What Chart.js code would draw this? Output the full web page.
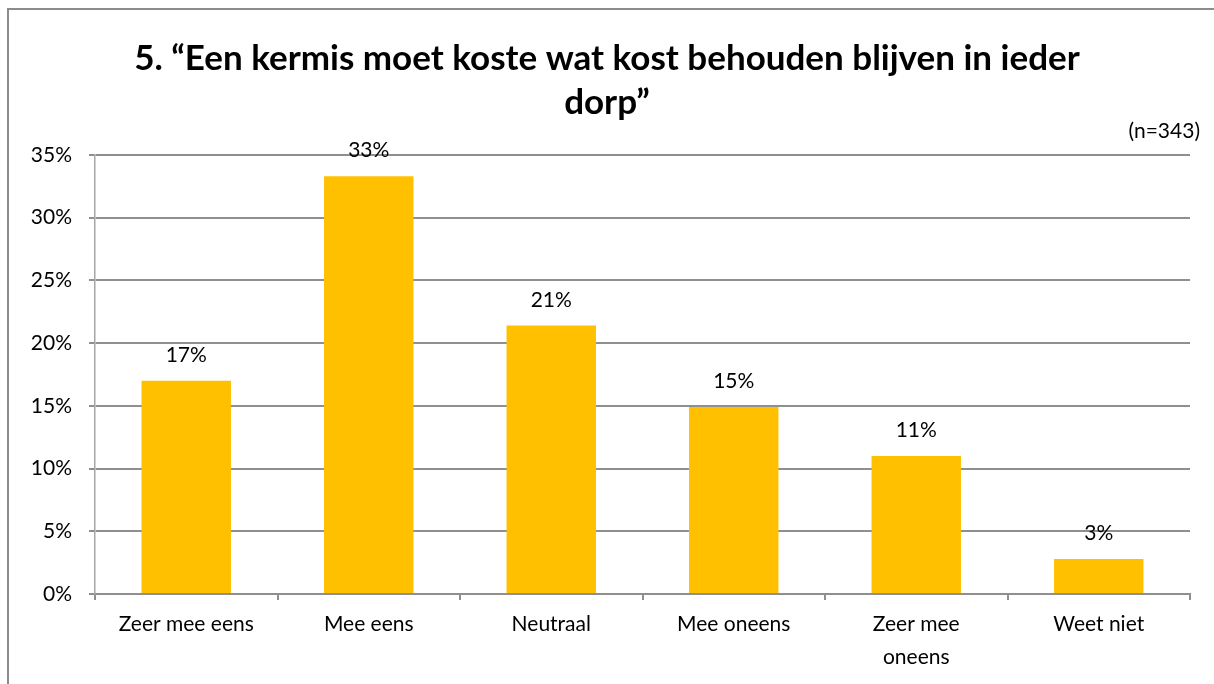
<!DOCTYPE html>
<html>
<head>
<meta charset="utf-8">
<script src="https://cdn.jsdelivr.net/npm/chart.js@4.4.1/dist/chart.umd.min.js"></script>
<style>
  body { margin: 0; overflow: hidden; background: #fff; }
  #frame { position: absolute; left: 7px; top: 8px; width: 1240px; height: 720px; border: 2px solid #8c8c8c; }
  #myChart { position: absolute; left: 0; top: 0; }
</style>
</head>
<body>
<div id="frame"></div>
<canvas id="myChart" width="1214" height="684"></canvas>
<script>
// data
const categories = ['Zeer mee eens', 'Mee eens', 'Neutraal', 'Mee oneens', ['Zeer mee', 'oneens'], 'Weet niet'];
const percentages = [17.0, 33.3, 21.4, 14.9, 11.0, 2.8];
const titleLines = ['5. \u201cEen kermis moet koste wat kost behouden blijven in ieder', 'dorp\u201d'];
const sampleNote = '(n=343)';

const gridGrey = '#8f8f8f';
const fontName = 'Lato';

// value labels above the bars + the (n=...) note
const labelPlugin = {
  id: 'barLabels',
  afterDatasetsDraw(chart) {
    const ctx = chart.ctx;
    const meta = chart.getDatasetMeta(0);
    ctx.save();
    ctx.font = '21px ' + fontName;
    ctx.fillStyle = '#000';
    ctx.textAlign = 'center';
    ctx.textBaseline = 'alphabetic';
    meta.data.forEach((bar, i) => {
      ctx.fillText(Math.round(percentages[i]) + '%', bar.x, bar.y - 19);
    });
    ctx.textAlign = 'right';
    ctx.fillText(sampleNote, chart.chartArea.right + 10, chart.chartArea.top - 17);
    ctx.restore();
  }
};

const data = {
  labels: categories,
  datasets: [{
    data: percentages,
    backgroundColor: '#FFC000',
    barPercentage: 0.49,
    categoryPercentage: 1.0
  }]
};

const config = {
  type: 'bar',
  data,
  options: {
    responsive: false,
    animation: false,
    layout: { padding: 0 },
    plugins: {
      legend: { display: false },
      tooltip: { enabled: false },
      title: {
        display: true,
        text: titleLines,
        color: '#000',
        font: { family: fontName, size: 35, weight: 'bold', lineHeight: 1.257 },
        padding: { top: 37, bottom: 30 }
      }
    },
    scales: {
      x: {
        grid: { drawOnChartArea: false, drawTicks: true, tickLength: 6, color: gridGrey, lineWidth: 2 },
        border: { color: gridGrey, width: 2 },
        ticks: {
          color: '#000',
          font: { family: fontName, size: 21, lineHeight: 1.57 },
          padding: 8,
          maxRotation: 0,
          autoSkip: false
        },
        afterFit(scale) { scale.height = 90; }
      },
      y: {
        min: 0,
        max: 35,
        grid: { color: gridGrey, lineWidth: 2, tickLength: 6 },
        border: { color: '#a6a6a6', width: 1.5 },
        ticks: {
          stepSize: 5,
          color: '#000',
          padding: 17,
          font: { family: fontName, size: 21 },
          callback: v => v + '%'
        },
        afterFit(scale) { scale.width = 95; }
      },
      // empty right-hand spacer so the title is centred on the whole canvas
      spacer: {
        position: 'right',
        grid: { display: false },
        border: { display: false },
        ticks: { display: false },
        afterFit(scale) { scale.width = 24; }
      }
    }
  },
  plugins: [labelPlugin]
};

const myChart = new Chart(document.getElementById('myChart'), config);
</script>
</body>
</html>
